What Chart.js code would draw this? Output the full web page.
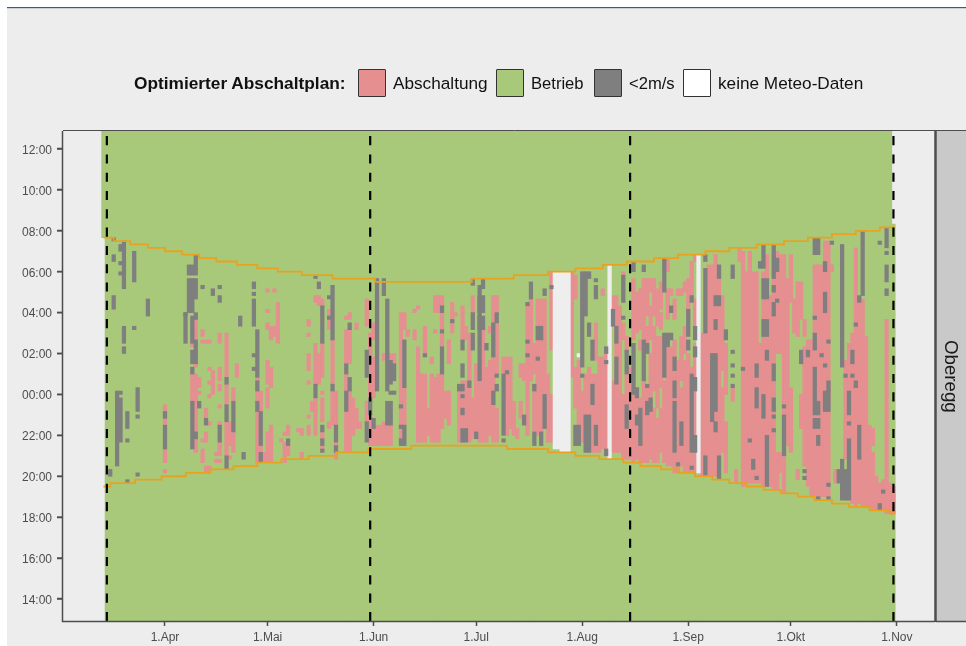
<!DOCTYPE html>
<html lang="de">
<head>
<meta charset="utf-8">
<title>Optimierter Abschaltplan</title>
<script src="https://cdn.jsdelivr.net/npm/chart.js@4"></script>
<style>
html,body{margin:0;padding:0;background:#fff;}
#wrap{position:relative;width:966px;height:646px;overflow:hidden;font-family:"Liberation Sans",Arial,sans-serif;color:#111;filter:blur(0.45px);}
canvas{position:absolute;left:0;top:0;}
.t{position:absolute;top:73px;font-size:17.2px;line-height:20px;white-space:nowrap;}
.b{position:absolute;top:69px;width:26px;height:26px;border:1.5px solid #333;border-radius:1px;}
#strip{position:absolute;left:936px;top:131px;width:30px;height:490px;display:flex;align-items:center;justify-content:center;}
#strip span{writing-mode:vertical-rl;font-size:18.7px;color:#1a1a1a;}
</style>
</head>
<body>
<div id="wrap">
<canvas id="c" width="966" height="646"></canvas>
<div class="t" style="left:134px;font-weight:bold;font-size:17.3px;">Optimierter Abschaltplan:</div>
<div class="b" style="left:358px;background:#E58F90;"></div><div class="t" style="left:393px;">Abschaltung</div>
<div class="b" style="left:496px;background:#A9C97A;"></div><div class="t" style="left:531px;top:74px;font-size:16.6px;">Betrieb</div>
<div class="b" style="left:594px;background:#7F7F7F;"></div><div class="t" style="left:629px;top:74px;font-size:16.6px;">&lt;2m/s</div>
<div class="b" style="left:683px;background:#FFFFFF;"></div><div class="t" style="left:718px;">keine Meteo-Daten</div>
<div id="strip"><span>Oberegg</span></div>
</div>
<script>
// x: days since 1 March; y: 10-minute slots since 12:00 noon
const monthDays = [31, 61, 92, 122, 153, 184, 214, 245];
const monthLabels = ['1.Apr', '1.Mai', '1.Jun', '1.Jul', '1.Aug', '1.Sep', '1.Okt', '1.Nov'];
const hourSlots = [12, 24, 36, 48, 60, 72, 84, 96, 108, 120, 132, 144];
const hourLabels = ['14:00', '16:00', '18:00', '20:00', '22:00', '00:00', '02:00', '04:00', '06:00', '08:00', '10:00', '12:00'];
const periodDays = [14, 91, 167, 244];
// sunrise / sunset steps: [first day, slot]
const sunriseSteps = [[13,118],[16,117],[20.8,116],[26,115],[31,114],[36,113],[41,112],[46,111],[52,110],[58,109],[64,108],[71,107],[80,106],[92.4,105],[120.7,106],[133,107],[143,108],[151,109],[159,110],[166,111],[174,112],[181,113],[189,114],[196,115],[204,116],[212,117],[219,118],[226,119],[233,120],[240,121],[244.5,121]];
const sunsetSteps = [[13,45],[15,46],[22.2,47],[30,48],[37.1,49],[44.2,50],[51,51],[58,52],[65,53],[73,54],[81,55],[90.5,56],[103,57],[131,56],[143,55],[151,54],[158,53],[165,52],[170,51],[176,50],[181,49],[186,48],[191,47],[196,46],[201,45],[206,44],[211,43],[216,42],[221,41],[226,40],[231,39],[237,38],[243,37],[244.5,37]];
// cells: [day, from slot, to slot]
const abschaltung = [
[31,67,69],[31,63,65],[31,52,56],[31,49,50],[39,86,87],[39,70,78],[40,88,94],[40,80,81],[40,70,78],[40,61,70],[40,55,59],[41,74,77],[41,72,73],
[42,89,91],[42,87,88],[42,58,59],[42,52,56],[43,87,88],[43,65,68],[43,58,61],[43,49,51],[44,87,88],[44,79,80],[44,75,76],[44,71,72],[44,63,64],[44,49,51],[45,72,79],
[46,54,55],[46,52,53],[47,87,90],[47,76,80],[47,73,75],[47,68,69],[47,62,64],[47,54,58],[47,52,53],[49,77,90],[49,69,75],[49,54,64],[50,57,64],[50,53,54],[51,70,74],[51,55,61],[52,77,81],
[58,76,77],[58,70,73],[58,52,67],[59,67,73],[59,55,57],[60,52,55],[61,102,103],[61,96,97],[61,91,93],[61,75,82],[61,68,74],[61,52,61],[62,88,92],[62,74,80],[62,52,63],[63,102,103],[63,89,92],[64,87,99],
[65,58,59],[66,60,61],[66,52,58],[67,60,63],[67,54,57],[70,61,62],[71,60,62],[71,53,55],[73,92,94],[73,89,90],[73,79,84],[73,75,76],[73,65,66],[73,60,63],[74,67,70],
[75,99,101],[75,75,87],[75,60,71],[76,98,101],[76,75,84],[77,98,100],[77,77,87],[77,72,73],[77,64,71],[77,59,61],[77,56,57],[79,91,97],[79,62,64],[80,75,88],[80,63,73],[81,63,73],[81,53,58],
[84,94,95],[84,81,91],[84,73,78],[84,55,67],[85,94,96],[85,81,91],[85,67,73],[85,55,67],[86,60,71],[87,91,93],[87,62,68],[88,62,64],
[90,92,100],[90,64,70],[91,71,90],[91,57,66],[92,88,93],[92,71,83],[92,57,62],[93,57,63],[94,57,63],[95,82,84],[95,57,64],[96,57,63],[97,82,84],[97,57,63],[98,81,84],
[100,58,96],[101,91,96],[101,63,74],[102,89,91],[104,96,97],[104,88,91],[105,97,98],[105,58,86],[106,58,78],[107,83,92],[107,58,78],[108,60,68],[109,81,83],[109,58,78],[110,96,101],[110,90,91],[110,58,77],[111,96,101],[111,58,78],
[112,98,101],[112,91,96],[112,86,90],[112,62,78],[113,65,73],[114,81,88],[114,63,73],[115,90,99],[116,95,96],[117,58,74],[118,88,98],[118,58,76],[119,88,92],[119,62,76],[120,76,90],[120,58,74],[121,96,101],[121,59,71],[122,61,81],[123,58,76],[124,58,91],[125,58,80],[126,90,92],[126,60,82],[127,58,101],[128,96,101],[128,78,93],[128,58,68],
[130,78,83],[131,79,83],[131,60,78],[132,62,83],[133,60,70],[134,59,62],[135,77,81],[135,65,70],[136,76,81],[137,60,98],[138,76,100],[139,78,87],[139,61,75],[140,60,100],[141,61,100],[142,72,100],[143,58,78],[144,85,108],[144,58,72],
[150,77,108],[151,100,107],[151,68,80],[152,63,82],[153,58,73],[154,58,78],[155,66,80],[156,55,78],[157,82,93],[157,55,78],[158,55,83],[159,101,103],[159,56,83],[160,55,84],[162,92,101],[162,55,76],[163,55,101],[164,55,98],
[165,99,108],[165,88,93],[165,53,72],[166,84,89],[166,53,78],[167,53,80],[168,88,106],[168,52,72],[169,90,102],[169,53,74],[170,91,103],[170,85,88],[170,52,71],[171,88,106],[171,52,76],[172,95,106],[172,87,92],[172,52,74],[173,102,106],[173,88,98],[173,53,84],[174,95,106],[174,73,92],[174,52,68],[175,92,103],[175,68,89],[175,52,65],[176,97,105],[176,91,96],[176,74,89],[176,55,68],[177,52,76],
[178,108,112],[178,94,103],[178,51,90],[179,101,103],[179,51,86],[180,94,100],[180,49,88],[181,101,103],[181,49,82],[182,101,103],[182,76,89],[182,51,74],[183,102,105],[183,84,92],[183,49,82],[184,94,106],[184,49,84],[185,101,111],[185,49,80],[186,111,113],[186,92,100],[186,77,87],[186,49,74],
[188,48,90],[189,48,90],[190,48,110],[191,48,110],[192,48,113],[193,47,110],[194,79,101],[194,55,74],[195,72,87],[195,49,64],[197,70,74],[198,46,50],[199,111,115],
[200,45,114],[201,46,108],[202,46,114],[203,46,108],[204,46,108],[205,46,87],[206,45,108],[207,45,113],[208,45,101],[209,44,113],[210,84,114],[210,44,55],[211,84,113],[211,49,55],[212,43,113],[213,57,106],[214,99,113],[214,55,74],[215,90,100],[216,89,105],[216,47,50],[217,94,105],[217,62,72],[218,89,94],[218,51,86],[219,45,88],
[220,42,88],[221,42,110],[222,42,110],[223,42,110],[224,42,117],[225,42,117],[226,108,110],[227,46,50],[230,53,82],[231,41,87],[232,40,90],[233,39,115],[234,40,100],[235,39,100],[236,39,89],[237,39,63],[238,57,62],[238,38,55],[239,38,48],[240,38,46],[241,38,47],[242,37,94],[243,37,46],[244,37,45]
];
const unter2ms = [
[15,48,50],[16,117,118],[16,111,113],[16,97,101],[17,51,73],[18,114,116],[18,110,111],[18,107,108],[18,72,73],[18,58,71],[19,103,117],[19,87,92],[19,84,86],[20,62,67],[20,58,59],[20,46,47],[22,105,114],[22,91,92],[23,67,74],[23,65,66],[23,48,49],[26,95,100],
[31,65,67],[31,56,63],[37,95,96],[37,87,96],[38,107,110],[38,96,106],[39,107,110],[39,96,106],[39,91,95],[39,87,91],[39,81,85],[39,78,80],[39,56,70],[40,110,113],[40,107,110],[40,100,106],[40,94,96],[40,81,88],[40,59,61],[41,68,70],
[42,103,104],[43,63,65],[45,101,103],[47,103,104],[47,99,101],[47,58,63],[49,75,77],[49,64,69],[49,50,54],[51,61,70],[53,92,95],[54,53,55],[57,103,105],[57,101,102],[57,92,100],[57,83,84],[57,79,80],
[58,77,91],[58,73,76],[58,67,70],[59,57,67],[59,52,55],[67,57,59],[75,106,107],[75,71,75],[76,103,105],[77,87,98],[77,61,63],[77,57,59],[77,55,56],[79,100,101],[79,94,95],[80,88,104],[80,73,75],[81,58,63],[81,55,57],[84,78,81],[84,67,73],[85,91,93],[85,73,77],
[90,77,85],[90,58,64],[91,66,71],[92,62,65],[93,73,106],[95,101,106],[96,84,100],[96,81,84],[96,73,81],[96,63,70],[97,75,82],[97,72,73],[97,63,70],[98,76,81],[98,72,73],[100,68,69],[100,62,63],[100,57,59],[101,74,88],[101,57,63],[107,83,84],
[112,96,98],[112,90,91],[112,78,86],[115,93,94],[117,73,75],[118,85,88],[118,77,81],[118,73,75],[118,71,72],[118,66,68],[118,58,62],[119,58,62],[120,74,76],[121,104,106],[121,91,96],[121,85,90],[122,59,61],[123,96,101],[123,91,95],[123,78,104],[123,76,78],[124,103,106],[124,96,101],[124,91,95],[125,85,87],[127,83,93],[127,69,73],[128,93,96],[128,77,78],[128,73,75],
[130,60,78],[130,58,59],[131,78,79],[136,63,66],[137,98,99],[137,87,88],[137,83,84],[138,100,105],[139,73,75],[139,57,61],[140,88,92],[140,82,83],[141,88,92],[141,57,61],[142,101,103],[142,62,72],[144,103,104],
[151,57,63],[152,57,63],[153,83,108],[153,80,83],[153,77,78],[154,95,108],[154,55,66],[155,89,93],[155,55,66],[155,106,108],[156,82,88],[156,69,75],[157,105,106],[157,102,104],[157,57,63],[157,100,102],[160,84,86],[160,81,82],[160,54,56],[162,92,97],[163,87,92],[163,75,83],[165,99,107],[165,94,95],
[166,78,85],[166,62,69],[168,108,111],[168,72,87],[169,71,74],[169,63,66],[170,57,68],[171,108,110],[171,76,88],[172,84,87],[172,74,75],[172,66,70],[173,67,71],[177,102,112],[177,77,90],[178,86,90],[179,88,90],[179,96,98],[180,79,83],[180,71,76],[180,55,70],[182,57,64],[181,51,52],[184,89,97],[184,85,88],[185,99,101],[185,55,78],[185,50,51],[186,88,92],[186,83,86],[186,73,77],[186,55,60],
[189,111,113],[189,90,109],[189,48,54],[191,67,84],[191,64,67],[192,67,84],[192,91,94],[192,61,64],[192,98,101],[193,98,101],[193,106,110],[193,47,54],[195,88,91],[197,107,110],[197,106,107],[197,84,85],[197,80,81],[197,77,78],[197,74,75],[200,79,80],[202,58,59],[203,50,53],[204,77,81],[204,68,74],[204,47,48],
[205,109,111],[206,109,116],[206,100,106],[206,89,94],[206,65,72],[207,100,106],[207,89,94],[207,82,85],[207,45,60],[209,106,116],[209,102,104],[209,95,99],[209,76,81],[209,67,71],[209,65,66],[209,61,62],[210,108,112],[210,99,100],[212,68,69],[212,54,66],[217,81,85],[218,49,50],[218,47,48],[219,83,85],
[221,113,118],[221,94,95],[221,85,90],[221,70,80],[221,66,70],[221,62,65],[222,113,118],[222,66,70],[222,62,65],[222,57,60],[222,41,42],[223,83,84],[224,108,111],[224,96,102],[224,80,81],[224,67,73],[225,87,88],[225,73,76],[225,67,73],[225,45,46],[225,41,42],[226,116,117],
[228,46,50],[229,80,116],[229,41,53],[230,77,78],[230,41,50],[231,66,73],[231,63,64],[231,58,59],[231,41,58],[232,81,85],[232,77,78],[233,92,93],[233,74,76],[234,99,101],[234,53,63],[235,101,120],[240,116,117],[240,38,40],[241,43,44],[242,115,121],[242,113,114],[242,105,110],[242,101,103]
];
const keineMeteo = [[145,56,108],[146,56,108],[147,55,108],[148,55,108],[149,55,108],[152,83,84],[161,53,110],[187,49,113]];

const SLOT_MIN = 5.54, SLOT_MAX = 149.28, DAY_MIN = 1.18, DAY_MAX = 256.15, CELL = 3.6;
const stepAt = (steps, d) => { let v = steps[0][1]; for (const s of steps) if (s[0] <= d) v = s[1]; return v; };
const betrieb = [];
for (let d = 13; d <= 243; d++) betrieb.push({x: d, y: [stepAt(sunriseSteps, d + 1), SLOT_MAX]});
for (let d = 14; d <= 244; d++) betrieb.push({x: d, y: [SLOT_MIN, stepAt(sunriseSteps, d) + 1]});
const cells = a => a.map(c => ({x: c[0], y: [c[1], c[2]]}));
const stepLine = a => a.map(s => ({x: s[0], y: s[1]}));
const barDs = (label, data, color, order) => ({type: 'bar', label, data, backgroundColor: color, borderWidth: 0, barThickness: CELL, grouped: false, order});
const lineDs = (label, data, color, width, extra) => Object.assign({type: 'line', label, data, borderColor: color, borderWidth: width, pointRadius: 0, fill: false, order: 1, tension: 0}, extra);

const page = {
  id: 'page',
  beforeDraw(ch) {
    const c = ch.ctx;
    c.save();
    c.fillStyle = '#FFFFFF'; c.fillRect(0, 0, 966, 646);
    c.fillStyle = '#EDEDED'; c.fillRect(7, 8, 959, 638);
    c.fillStyle = '#2A5F8F'; c.fillRect(7, 7, 959, 1.2);
    c.fillStyle = '#C9C9C9'; c.fillRect(936, 131, 30, 490);
    c.restore();
  },
  afterDraw(ch) {
    const c = ch.ctx, a = ch.chartArea, ys = ch.scales.y;
    c.save();
    c.strokeStyle = '#4D4D4D'; c.lineWidth = 1;
    c.beginPath(); c.moveTo(a.left, a.top - .5); c.lineTo(966, a.top - .5); c.stroke();
    c.lineWidth = 1.5;
    c.beginPath(); c.moveTo(a.left - .5, a.top); c.lineTo(a.left - .5, a.bottom + .5); c.lineTo(a.right, a.bottom + .5); c.stroke();
    c.beginPath(); c.moveTo(936, a.bottom + .5); c.lineTo(966, a.bottom + .5); c.stroke();
    hourSlots.forEach(v => { const p = ys.getPixelForValue(v); c.beginPath(); c.moveTo(a.left - 6, p); c.lineTo(a.left, p); c.stroke(); });
    c.lineWidth = 2.5;
    c.beginPath(); c.moveTo(a.right + .5, a.top); c.lineTo(a.right + .5, a.bottom + 1); c.stroke();
    c.restore();
  }
};

new Chart(document.getElementById('c'), {
  type: 'bar',
  data: {datasets: [
    ...periodDays.map(d => lineDs('Periode', [{x: d, y: SLOT_MIN}, {x: d, y: SLOT_MAX}], '#000000', 2.2, {borderDash: [9.1, 9.2]})),
    lineDs('Sonnenaufgang', stepLine(sunriseSteps), '#E9A21F', 1.8, {stepped: 'before', order: 1.5}),
    lineDs('Sonnenuntergang', stepLine(sunsetSteps), '#E9A21F', 1.8, {stepped: 'before', order: 1.5}),
    barDs('<2m/s', cells(unter2ms), '#7F7F7F', 2),
    barDs('keine Meteo-Daten', cells(keineMeteo), '#EEEEEE', 3),
    barDs('Abschaltung', cells(abschaltung), '#E58F90', 4),
    barDs('Betrieb', betrieb, '#A9C97A', 5)
  ]},
  plugins: [page],
  options: {
    responsive: false, animation: false, events: [],
    layout: {padding: {top: 131, right: 31, left: 0, bottom: 0}},
    plugins: {legend: {display: false}, tooltip: {enabled: false}},
    scales: {
      x: {
        type: 'linear', min: DAY_MIN, max: DAY_MAX, offset: false,
        afterBuildTicks: s => { s.ticks = monthDays.map(v => ({value: v})); },
        afterFit: s => { s.height = 25; },
        grid: {offset: false, drawOnChartArea: false, tickLength: 5, tickColor: '#4D4D4D', tickWidth: 1.5},
        border: {display: false},
        ticks: {autoSkip: false, maxRotation: 0, padding: 4, color: '#4D4D4D', font: {family: '"Liberation Sans"', size: 12},
          callback: v => monthLabels[monthDays.indexOf(v)]}
      },
      y: {
        type: 'linear', min: SLOT_MIN, max: SLOT_MAX,
        afterBuildTicks: s => { s.ticks = hourSlots.map(v => ({value: v})); },
        afterFit: s => { s.width = 63; },
        grid: {offset: false, drawOnChartArea: false, tickLength: 6, tickColor: '#4D4D4D', tickWidth: 1.5},
        border: {display: false},
        ticks: {autoSkip: false, padding: 5, labelOffset: 1.5, color: '#4D4D4D', font: {family: '"Liberation Sans"', size: 12},
          callback: v => hourLabels[hourSlots.indexOf(v)]}
      }
    }
  }
});
</script>
</body>
</html>
